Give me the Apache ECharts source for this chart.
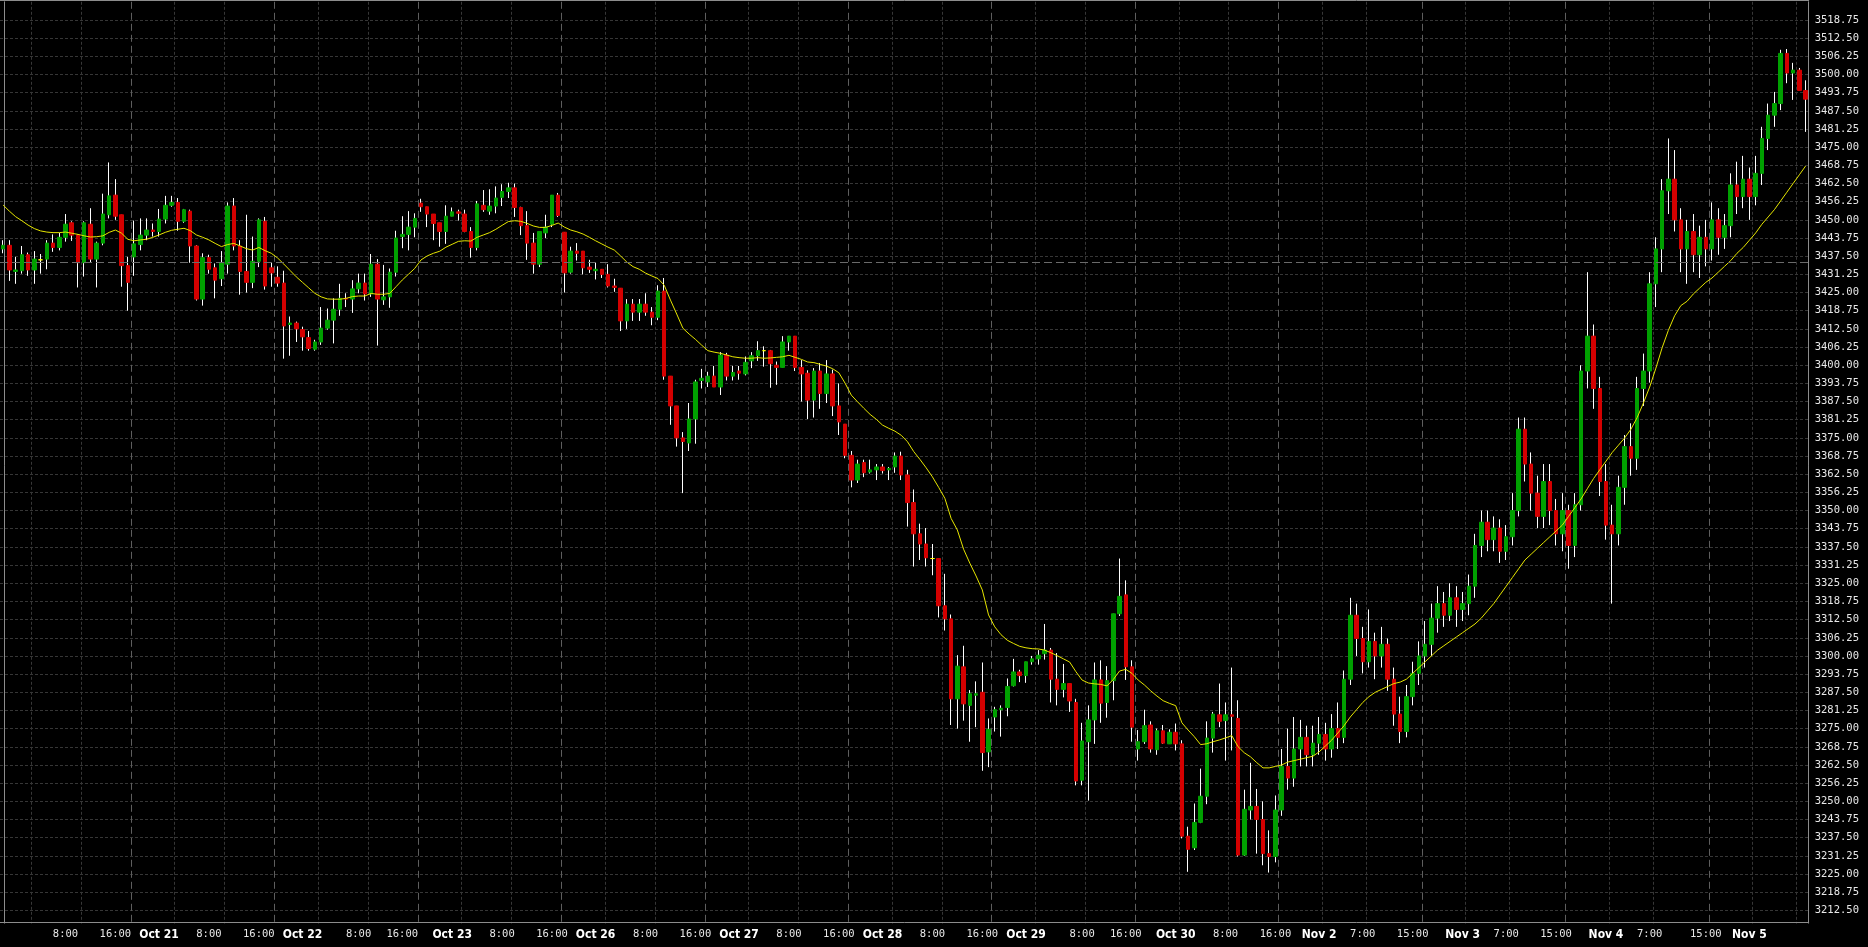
<!DOCTYPE html>
<html><head><meta charset="utf-8">
<script src="https://cdn.jsdelivr.net/npm/echarts@6/dist/echarts.min.js"></script>
<style>html,body{margin:0;padding:0;background:#000;overflow:hidden}#c{width:1868px;height:947px}</style>
</head><body><div id="c"></div>
<script>
// ---- data (hourly candles) ----
const opens = [
3440,3441.25,3432.25,3432.5,3438,3432.75,3436.25,3436.5,3442,3440.5,3444,3449,3444.75,3435.25,3448.5,3436.5,3442,3451.75,3458.5,3451.75,
3434.25,3437.25,3441.5,3444.75,3446.5,3446,3450.25,3455,3456,3449.5,3453,3441,3422.75,3437,3433.5,3429.75,3434.75,3454.75,3441,3432.25,
3428.5,3435.75,3449.5,3433.5,3430.25,3428.25,3414,3414.5,3412.25,3409.5,3405.5,3408,3412.75,3415.5,3419.25,3423,3422.75,3426.25,3428.25,3424.5,
3434.75,3422.5,3423.5,3432,3444.25,3445,3447.5,3455.75,3454.5,3452,3449,3446,3451.25,3452.75,3452,3446,3440.5,3455,3453,3454.75,
3457.75,3459.75,3461,3454.25,3448,3442,3434.75,3445.5,3448.5,3458.5,3445.75,3432,3439.25,3439.25,3433.75,3432.5,3433,3431.25,3427.25,3426.5,
3415.25,3421,3418.25,3421,3418.25,3416.5,3425.5,3396.25,3386,3375,3373.25,3381.5,3394.75,3394.25,3396.25,3392.5,3403.5,3396.25,3398,3397,
3401.5,3403.25,3405,3405,3400,3399.25,3408,3410,3399.25,3397.25,3388,3398,3390.25,3397,3386,3379.75,3369,3360.5,3366.5,3363.25,
3364,3365,3364,3365,3368.75,3362.25,3352.75,3342,3338.5,3333.5,3333.5,3317.25,3312.75,3285.25,3296.25,3283,3286.5,3287.5,3267,3279,
3281.5,3282.25,3289.75,3294.5,3293.25,3298,3299,3300.75,3302,3292,3288.5,3290.5,3284,3257.25,3270.5,3278,3291.75,3284,3291.5,3314.5,
3321,3296.25,3268,3270.5,3276.25,3267.75,3274.25,3269.75,3273.75,3269.75,3238,3234,3242.75,3251.75,3271.75,3279.75,3277.75,3279.75,3278.5,3231.5,
3247,3248.25,3243.75,3232,3231,3247,3262,3258,3268,3272,3266,3270,3273,3268,3275,3272,3292,3314,3306,3298,
3305,3300,3304,3292,3280,3274,3286,3294,3300,3304,3313,3318,3314,3320,3316,3318,3324,3338,3346,3340,
3344,3336,3341,3350,3378,3366,3356,3348,3360,3350,3342,3350,3338,3352,3398,3410,3392,3360,3345,3342,
3358,3372,3368,3392,3398,3428,3440,3460,3464,3450,3440,3446,3438,3444,3440,3450,3444,3448,3462,3458,
3464,3458,3466,3478,3486,3490,3507.25,3500.5,3501.5,3494.5
];
const closes = [
3441.25,3432.75,3432.75,3438,3432.75,3436.5,3436.25,3442,3440.5,3444,3448.5,3444.75,3435.25,3449,3436.5,3442,3452,3458.25,3451.25,3434.25,
3428.5,3441.75,3444.75,3446.5,3446,3450.25,3455,3456,3449.5,3453.5,3441,3422.75,3437,3433,3429.25,3435.25,3454.75,3441,3432.25,3428.5,
3435.75,3450,3427.25,3431.75,3428.25,3413.5,3414.5,3412.5,3409.75,3405.75,3408,3412.75,3415.5,3419.25,3423,3422.75,3426.25,3428.25,3424.5,3434.75,
3422.75,3423.5,3432,3443.75,3445,3447.5,3450.5,3454.5,3452,3448.75,3446,3451.25,3452.75,3452.25,3446,3440.5,3455.5,3453.5,3454.75,3457.5,
3459.75,3461,3454.25,3448,3442,3434.75,3446,3447.5,3458.5,3451.5,3431.75,3439.25,3438.5,3433.5,3433,3433,3431.25,3427.25,3426.75,3415.25,
3421,3418.25,3421,3418.25,3416.5,3425.5,3396.25,3386,3375,3373.75,3381.5,3394.25,3395.5,3396.25,3392.5,3403.5,3396.25,3397.5,3397.25,3401,
3403.25,3405,3405,3400.5,3399.25,3408,3410,3399.25,3397,3388,3398,3390.25,3397,3386,3380.5,3369,3360.5,3366,3363,3364,
3365,3363.75,3364.5,3368.75,3362.25,3352.75,3342,3338.5,3333.75,3333.5,3317.25,3312.75,3285.25,3296.5,3283.5,3287,3287,3266.75,3274.75,3281.5,
3282,3289.5,3294.5,3293.25,3298,3299,3300.25,3302,3292,3288.5,3290.5,3284.5,3257,3270.75,3278,3291.75,3283.75,3291.5,3314.5,3320.5,
3296.25,3275.5,3270.5,3276,3268,3274.25,3270,3273.75,3269.75,3238,3233.5,3242.75,3251.75,3271.75,3280,3277.5,3279.75,3279.25,3231.5,3247.25,
3248.25,3243.75,3232,3231,3247,3262,3258,3268,3272,3266,3270,3273,3268,3275,3272,3292,3314,3306,3298,3305,
3300,3304,3292,3280,3274,3286,3294,3300,3304,3313,3318,3314,3320,3316,3318,3324,3338,3346,3340,3344,
3336,3341,3350,3378,3366,3356,3348,3360,3350,3342,3350,3338,3352,3398,3410,3392,3360,3345,3342,3358,
3372,3368,3392,3398,3428,3440,3460,3464,3450,3440,3446,3438,3444,3440,3450,3444,3448,3462,3458,3464,
3458,3466,3478,3486,3490,3507.25,3500.5,3501.5,3494.5,3491.5
];
const lows = [
3438.5,3429,3428,3431.5,3430.75,3428,3431.5,3433,3439,3439.5,3442.5,3442.75,3426.75,3430.5,3435.5,3426.75,3441.25,3450.5,3450,3427,
3418.75,3430.75,3439.5,3443,3444.25,3444.25,3448.75,3454.5,3446.25,3449,3435.25,3422.25,3420.5,3431.5,3423,3427.25,3431.5,3439.5,3424.25,3425,
3426.5,3433.75,3426,3427,3427,3402.25,3403.25,3408,3405,3405,3405,3407,3412.25,3407.5,3417,3420,3418,3424.75,3422.25,3423.5,
3406.75,3420.75,3419.75,3430.5,3440.25,3439.5,3444,3452.75,3447.5,3443,3440.75,3441.75,3451.25,3449.75,3445.75,3437,3439.5,3452.75,3451.75,3452.25,
3454.75,3457.5,3451,3444.75,3436.25,3431.5,3433.75,3443.75,3447.5,3451,3425,3431.5,3436,3431.25,3431.75,3429.5,3430,3426.75,3425.25,3411.75,
3412.5,3415.25,3415.25,3417,3413.75,3415.5,3395,3379.5,3372,3356,3370.5,3373,3392,3392.5,3392.5,3389.75,3394.75,3394.75,3395,3396.5,
3399,3401.5,3399.5,3392.25,3393.25,3399.25,3405,3398,3387.5,3381.5,3382,3385,3387,3382.5,3376,3368,3358,3359.5,3361.5,3362.75,
3360.5,3362.75,3360.5,3363,3360.5,3344.5,3330.75,3333,3330.75,3327.75,3313.25,3308.75,3276.25,3275,3277.75,3270.5,3275.5,3260.5,3261.75,3274,
3272.25,3279.25,3289.5,3291,3290.75,3297,3297,3298.75,3284,3283,3285.75,3280.75,3255.5,3255.5,3250.25,3269.75,3277,3278.75,3284.75,3313.75,
3291.75,3270.5,3264,3269.75,3266.75,3266,3269.75,3269.75,3267.5,3237.25,3225.75,3233.25,3242.5,3249,3266.75,3275.5,3264,3267.5,3231,3231.25,
3243.75,3232,3228,3225.5,3229,3245,3254,3255,3262,3262,3262,3266,3264,3265,3268,3270,3290,3300,3294,3296,
3292,3296,3288,3276,3270,3272,3283,3290,3296,3300,3308,3310,3312,3310,3312,3314,3320,3334,3336,3336,
3332,3333,3338,3348,3360,3350,3344,3344,3345,3338,3336,3330,3334,3350,3392,3385,3355,3340,3318,3338,
3352,3362,3364,3386,3394,3420,3432,3452,3446,3432,3428,3432,3430,3434,3436,3438,3440,3444,3452,3454,
3450,3455,3462,3474,3482,3487.75,3497,3491.25,3494.5,3480.25
];
const highs = [
3443,3443,3437.25,3441,3438.75,3439.25,3438.25,3443,3445,3445.5,3452,3449.5,3445,3449.5,3454,3442.5,3459,3469.75,3464,3451.75,
3437.25,3449.75,3450.5,3450.5,3448.75,3453.75,3458.25,3458.25,3457.5,3453.75,3453.5,3441.25,3438.5,3438,3435,3439.25,3456,3457.5,3443,3451.75,
3444.25,3450.5,3451,3435.25,3434,3432.5,3416.75,3415,3413.25,3411.75,3408.75,3420,3419.5,3423,3428,3424.75,3429.25,3431.5,3431.5,3438.25,
3436.5,3434.5,3433.25,3446.25,3451.25,3453,3452.25,3457.25,3454.5,3452,3449,3455,3454.25,3453.5,3453.5,3447.5,3456.5,3460.25,3460.5,3461.5,
3462.25,3462.75,3462.5,3454.5,3453,3445.5,3446,3451.75,3458.5,3459.25,3445.75,3440.75,3442,3439.25,3436.25,3435.5,3433,3434.75,3429.75,3426.5,
3422.75,3422.75,3422.75,3424.75,3420,3427.5,3430,3396.25,3386,3377,3387,3395,3398.75,3397.75,3399.75,3404.5,3404.25,3399.75,3399.75,3403,
3404.5,3408.25,3406.5,3405.25,3401.25,3410,3410,3410,3401.75,3398.25,3399,3400.75,3401.75,3398.5,3393.75,3379.75,3370.5,3367.5,3367.5,3367.5,
3366,3366,3365,3370,3370.25,3364,3357.25,3345.5,3344,3338.5,3333.5,3328.25,3314.25,3300.25,3303.5,3288.25,3291.25,3297.75,3278.5,3282.5,
3283,3292.25,3299,3295.25,3298,3300,3302,3311,3302.75,3301,3297.25,3290.5,3285.25,3277,3283,3297.75,3298.5,3296.5,3314.5,3333.5,
3326,3298.5,3274.5,3281.5,3277.5,3275,3276.25,3274.75,3276.75,3271,3241.25,3249.25,3261.25,3277.5,3280.75,3290.5,3284,3296,3284.75,3254,
3263.25,3254.25,3250,3240,3252,3268,3275,3279,3278,3276,3276,3279,3277,3280,3284,3295,3320,3318,3310,3316,
3308,3310,3306,3296,3286,3290,3298,3305,3312,3318,3324,3322,3325,3324,3322,3328,3342,3350,3350,3348,
3347,3345,3356,3382,3382,3370,3362,3366,3366,3354,3356,3352,3356,3400,3432,3414,3396,3366,3352,3362,
3376,3380,3396,3404,3432,3444,3464,3478,3474,3454,3450,3452,3448,3450,3456,3454,3452,3466,3470,3472,
3468,3472,3482,3490,3494,3508.5,3508.75,3504,3502.25,3498
];
const maValues = [
3455.1,3453,3451.1,3449.7,3448.2,3447,3446.2,3445.8,3445.6,3445.6,3445.8,3445.4,3445,3444.5,3444.1,3444.2,3444.5,3445.7,3446.5,3445.4,
3443.3,3442.8,3443.1,3443.3,3444,3444.8,3445.7,3446.4,3446.75,3447.1,3446.3,3444.8,3444,3443.1,3441.9,3440.8,3441.5,3441.9,3441,3440.1,
3439.6,3440.5,3439.4,3438.5,3436.9,3434.8,3432.6,3430.4,3428.5,3426.6,3424.7,3423.5,3422.8,3422.7,3422.7,3423,3423.6,3423.8,3423.8,3424.7,
3424.4,3424.4,3424.7,3427,3429.3,3431.3,3433.3,3436.2,3437.6,3438.5,3439.2,3440.6,3441.6,3442.6,3442.8,3442.7,3444,3444.8,3445.6,3446.75,
3448.1,3449.4,3449.7,3449.5,3448.8,3447.9,3447.4,3447.4,3448.1,3448.9,3447.5,3446.5,3445.9,3445.1,3444,3442.8,3441.7,3440.6,3439.6,3437.6,
3435.5,3433.9,3433,3431.7,3430.7,3429.8,3427.5,3422.4,3417.6,3412.7,3410.7,3408.9,3406.9,3405,3404.5,3404.1,3403.5,3402.9,3402.6,3402.4,
3402.4,3402.6,3402.4,3402.5,3402.7,3402.9,3403.4,3402.7,3402,3401.1,3400.9,3400.3,3399.7,3398.8,3397.4,3393.8,3389.7,3387.4,3385.2,3383.1,
3381.4,3379.4,3378.3,3377.3,3375.9,3373.7,3370.3,3367.6,3364.7,3361.6,3358,3354.2,3347.3,3343.3,3336.7,3331.9,3327.5,3322.7,3314.1,3310,
3307.3,3305.4,3304.3,3303.3,3302.8,3302.5,3302.4,3302,3301.1,3300.1,3299,3297.9,3294.6,3291.7,3290.7,3290.4,3290.2,3289.7,3291.9,3294.8,
3295.4,3294,3291.7,3290,3288,3286.2,3284.6,3283.7,3282.9,3277,3274.5,3272.2,3269.5,3269.8,3270.5,3271.1,3271.8,3272.6,3268.8,3266.7,
3265.3,3263.3,3261.5,3261.5,3262,3262.5,3263.5,3264,3264.5,3265,3265.5,3267,3269,3271,3273.5,3276,3279,3281.5,3284,3286,
3287.5,3288.5,3289.5,3290.5,3291,3292,3294,3296,3298,3300,3302,3303.5,3305,3306.5,3308,3309.5,3311,3313,3315.5,3318,
3321,3324,3327,3330,3333,3335,3337,3339,3341,3343,3345,3348,3351,3354,3357.5,3361,3364,3367,3370,3372.5,
3375,3378,3382,3387,3392.5,3399,3406,3412,3417,3420.5,3422,3424.5,3426.5,3428.5,3430,3432,3434,3436,3438.5,3440.5,
3443,3445.5,3448.5,3451,3453.5,3456.5,3459.5,3462.5,3465.5,3468.5
];
const refLevel = 3435.5;
const tickIdx = [10,18,25,33,41,48,57,64,72,80,88,95,103,111,118,126,134,141,149,157,164,173,180,188,196,204,211,218,226,234,241,249,257,264,273,280];
const tickText = ['8:00','16:00','Oct 21','8:00','16:00','Oct 22','8:00','16:00','Oct 23','8:00','16:00','Oct 26','8:00','16:00','Oct 27','8:00','16:00','Oct 28','8:00','16:00','Oct 29','8:00','16:00','Oct 30','8:00','16:00','Nov 2','7:00','15:00','Nov 3','7:00','15:00','Nov 4','7:00','15:00','Nov 5'];
const dayLineIdx = [21,44,67,90,113,136,159,182,205,228,251,274];
const hourLineIdx = [5,13,28,36,51,59,74,82,97,105,120,128,143,151,166,174,189,197,212,219,235,242,258,265,281,288];
const yMin = 3206.25, yMax = 3525, yStep = 6.25;

// ---- chart ----
const cats = opens.map((_, i) => String(i));
const labelMap = {};
tickIdx.forEach((k, j) => { labelMap[k] = tickText[j]; });
const daySet = new Set(dayLineIdx), hourSet = new Set(hourLineIdx);
const wickData = opens.map((o, i) => [o, closes[i], lows[i], highs[i]]);
const bodyData = opens.map((o, i) => {
  const c = closes[i];
  const it = { value: [o, c, Math.min(o, c), Math.max(o, c)] };
  if (o === c) it.itemStyle = { color: '#ffff00', color0: '#ffff00', borderColor: '#ffff00', borderColor0: '#ffff00' };
  return it;
});
const GRAY = '#8c8c8c';
const chart = echarts.init(document.getElementById('c'));
const hiddenCat = (extra) => Object.assign({
  type: 'category', data: cats, boundaryGap: true,
  axisLine: { show: false }, axisTick: { show: false }, axisLabel: { show: false }, splitLine: { show: false }
}, extra);
chart.setOption({
  backgroundColor: '#000000',
  animation: false,
  grid: { left: -3.36, right: 59.3, top: 1.8, bottom: 18.5, containLabel: false },
  xAxis: [
    hiddenCat({ position: 'bottom', splitLine: { show: true, interval: (i) => hourSet.has(i), lineStyle: { color: '#363636', type: [3, 2], width: 1 } } }),
    hiddenCat({ position: 'bottom', splitLine: { show: true, interval: (i) => daySet.has(i), lineStyle: { color: '#5e5e5e', type: [7, 4], width: 1 } } }),
    hiddenCat({ position: 'bottom', offset: -5.8, z: 10,
      axisLine: { show: true, lineStyle: { color: GRAY, width: 1 } },
      axisLabel: {
        show: true, margin: 6,
        interval: (i) => labelMap[i] !== undefined,
        formatter: (v) => { const t = labelMap[Number(v)]; if (!t) return ''; return /^[A-Z]/.test(t) ? '{d|' + t + '}' : '{t|' + t + '}'; },
        rich: {
          d: { fontFamily: '"DejaVu Sans Condensed","Liberation Sans Narrow","DejaVu Sans",sans-serif', fontWeight: 'bold', fontSize: 12, color: '#ffffff' },
          t: { fontFamily: '"DejaVu Sans Mono",monospace', fontSize: 10.5, color: '#e8e8e8' }
        }
      }
    }),
    hiddenCat({ position: 'top', offset: 1.3, axisLine: { show: true, lineStyle: { color: GRAY, width: 1 } } })
  ],
  yAxis: [
    {
      type: 'value', position: 'right', min: yMin, max: yMax, interval: yStep,
      axisLine: { show: true, lineStyle: { color: GRAY, width: 1 } },
      axisTick: { show: false },
      axisLabel: { show: true, margin: 6, showMinLabel: false, showMaxLabel: false,
        fontFamily: '"DejaVu Sans Mono",monospace', fontSize: 10.5, color: '#e8e8e8',
        formatter: (v) => v.toFixed(2) },
      splitLine: { show: true, showMinLine: false, showMaxLine: false, lineStyle: { color: '#363636', type: [3, 2], width: 1 } }
    },
    {
      type: 'value', position: 'left', offset: -3.86, min: yMin, max: yMax,
      axisLine: { show: true, lineStyle: { color: GRAY, width: 1 } },
      axisTick: { show: false }, axisLabel: { show: false }, splitLine: { show: false }
    }
  ],
  graphic: [{
    type: 'rect', silent: true, z: 5,
    shape: { x: 0, y: 923.4, width: 1812, height: 30 },
    style: { fill: '#000000' }
  }],
  series: [
    {
      name: 'wick', type: 'candlestick', xAxisIndex: 0, yAxisIndex: 0, data: wickData,
      barWidth: 0.01, silent: true, z: 2,
      itemStyle: { color: '#ffffff', color0: '#ffffff', borderColor: '#ffffff', borderColor0: '#ffffff', borderWidth: 1 }
    },
    {
      name: 'body', type: 'candlestick', xAxisIndex: 0, yAxisIndex: 0, data: bodyData,
      barWidth: 4, silent: true, z: 3,
      itemStyle: { color: '#00a000', color0: '#d40000', borderColor: '#00a000', borderColor0: '#d40000', borderWidth: 1 }
    },
    {
      name: 'MA', type: 'line', xAxisIndex: 0, yAxisIndex: 0, data: maValues,
      symbol: 'none', showSymbol: false, silent: true, z: 4,
      lineStyle: { color: '#e6e600', width: 1 },
      markLine: {
        silent: true, symbol: ['none', 'none'], label: { show: false },
        lineStyle: { color: '#6a6a6a', type: [8, 4], width: 1 },
        data: [{ yAxis: refLevel }]
      }
    }
  ]
});
</script>
</body></html>
